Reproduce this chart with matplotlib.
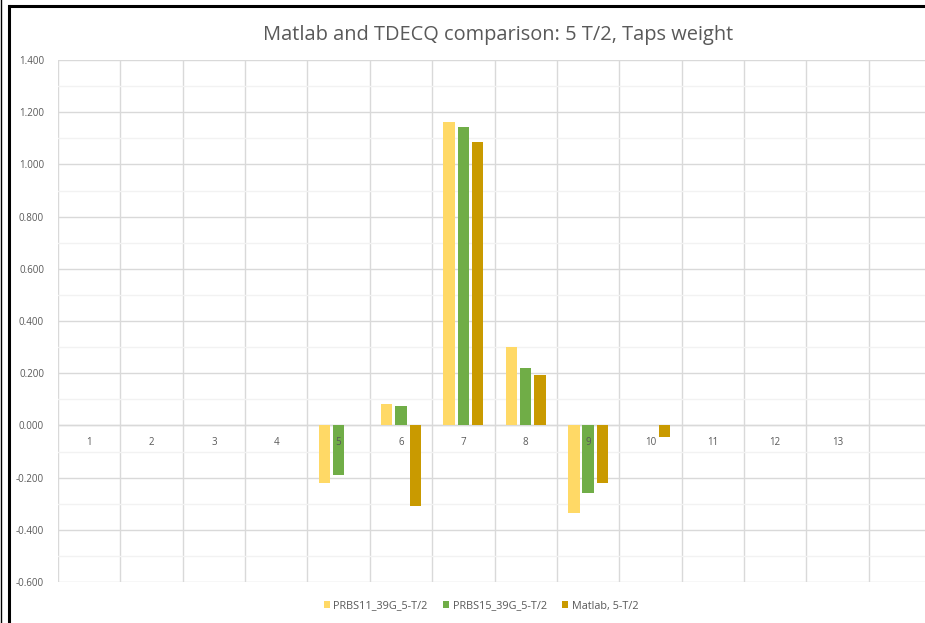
import numpy as np
import matplotlib
matplotlib.use("Agg")
import matplotlib.pyplot as plt
from matplotlib.lines import Line2D
from matplotlib.ticker import MultipleLocator, FormatStrFormatter

## === Data === ##

categories = ["1", "2", "3", "4", "5", "6", "7", "8", "9", "10", "11", "12", "13", ""]
prbs11 = [0, 0, 0, 0, -0.222, 0.083, 1.162, 0.300, -0.334, 0, 0, 0, 0, 0]
prbs15 = [0, 0, 0, 0, -0.190, 0.073, 1.143, 0.221, -0.260, 0, 0, 0, 0, 0]
matlab = [0, 0, 0, 0, 0, -0.308, 1.086, 0.192, -0.219, -0.043, 0, 0, 0, 0]

series_names = ["PRBS11_39G_5-T/2", "PRBS15_39G_5-T/2", "Matlab, 5-T/2"]
colors = ["#FFD966", "#70AD47", "#C99A00"]

## === Plot === ##

plt.rcParams["font.family"] = ["Open Sans", "DejaVu Sans"]
text_grey = "#595959"
grid_grey = "#D9D9D9"

fig = plt.figure(figsize=(9.25, 6.23), dpi=100, facecolor="white")
W, H = 925, 623
# plot area in pixels: left 58, top 60, bottom 582, 14 categories of ~62.36 px
left, top, bottom = 58, 60, 582
right = left + 14 * 62.36
ax = fig.add_axes([left / W, 1 - bottom / H, (right - left) / W, (bottom - top) / H])

x = np.arange(len(categories))
step = 0.228
width = 0.182
for i, (vals, name, c) in enumerate(zip([prbs11, prbs15, matlab], series_names, colors)):
    ax.bar(x + (i - 1) * step, vals, width, color=c, label=name, zorder=3, linewidth=0)

ax.set_xlim(-0.5, len(categories) - 0.5)
ax.set_ylim(-0.6, 1.4)
ax.yaxis.set_major_locator(MultipleLocator(0.2))
ax.yaxis.set_minor_locator(MultipleLocator(0.1))
ax.yaxis.set_major_formatter(FormatStrFormatter("%.3f"))
ax.grid(which="major", axis="y", color=grid_grey, linewidth=1.0, zorder=0)
ax.grid(which="minor", axis="y", color="#F2F2F2", linewidth=1.0, zorder=0)
# vertical gridlines between categories
for b in np.arange(len(categories)) - 0.5:
    ax.axvline(b, color=grid_grey, linewidth=1.0, zorder=0)
ax.axhline(0, color=grid_grey, linewidth=1.0, zorder=1)

ax.tick_params(axis="y", which="both", length=0, labelsize=7, labelcolor=text_grey, pad=10)
ax.tick_params(axis="x", length=0, labelbottom=False)
ax.set_xticks(x)
ax.patch.set_visible(False)
for s in ax.spines.values():
    s.set_visible(False)

# category labels sit just under the zero line
for xi, lab in zip(x, categories):
    ax.annotate(lab, (xi, 0), xytext=(0, -12), textcoords="offset points",
                ha="center", va="center", fontsize=7, color=text_grey, zorder=4)

fig.text(498 / W, 1 - 35 / H, "Matlab and TDECQ comparison: 5 T/2, Taps weight",
         ha="center", va="center", fontsize=14.4, color=text_grey)

fig.legend(loc="center", bbox_to_anchor=(481 / W, 1 - 606 / H), ncol=3, frameon=False,
           fontsize=7.8, labelcolor=text_grey, handlelength=0.6, handleheight=0.6,
           handletextpad=0.3, columnspacing=1.4)

# black frame lines from the screenshot
fig.add_artist(Line2D([0.6 / W, 0.6 / W], [0, 1], color="black", linewidth=1.0))
fig.add_artist(Line2D([8.5 / W, 8.5 / W], [0, 1 - 5.5 / H], color="black", linewidth=2.2))
fig.add_artist(Line2D([7.5 / W, 1.01], [1 - 5.5 / H, 1 - 5.5 / H], color="black",
                      linewidth=2.2, solid_capstyle="butt"))

fig.savefig("out.png", dpi=100, facecolor="white")
